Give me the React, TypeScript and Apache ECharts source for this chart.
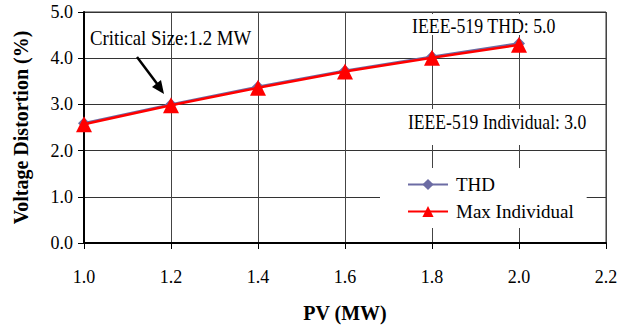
import React, { useEffect, useRef } from "react";
import * as echarts from "echarts";

const pvValues = [1.0, 1.2, 1.4, 1.6, 1.8, 2.0];
const thdValues = [2.59, 3.0, 3.38, 3.73, 4.03, 4.32];
const maxIndividualValues = [2.57, 2.98, 3.36, 3.71, 4.01, 4.29];
const seriesNames = ["THD", "Max Individual"];
const xAxisTitle = "PV (MW)";
const yAxisTitle = "Voltage Distortion (%)";
const annotationCritical = "Critical Size:1.2 MW";
const annotationThd = "IEEE-519 THD: 5.0";
const annotationIndividual = "IEEE-519 Individual: 3.0";

const FONT = "Liberation Serif";

export default function App() {
  const ref = useRef<HTMLDivElement>(null);
  useEffect(() => {
    if (!ref.current) return;
    const chart = echarts.init(ref.current, null, { renderer: "svg" });
    const thdData = pvValues.map((x, i) => [x, thdValues[i]]);
    const maxData = pvValues.map((x, i) => [x, maxIndividualValues[i]]);
    const annText = (text: string, x: number, y: number, sx: number) => ({
      type: "text",
      x,
      y,
      scaleX: sx,
      z: 10,
      style: {
        text,
        fontFamily: FONT,
        fontSize: 20,
        fill: "#000",
        verticalAlign: "middle",
        align: "left",
      },
    });
    chart.setOption({
      animation: false,
      backgroundColor: "#fff",
      textStyle: { fontFamily: FONT },
      grid: {
        left: 84,
        right: 28,
        top: 12,
        bottom: 78,
        show: true,
        borderColor: "#333",
        borderWidth: 1,
      },
      xAxis: {
        type: "value",
        min: 1.0,
        max: 2.2,
        interval: 0.2,
        name: xAxisTitle,
        nameLocation: "middle",
        nameGap: 60,
        nameTextStyle: { fontFamily: FONT, fontWeight: "bold", fontSize: 20, color: "#000" },
        axisLine: { show: true, onZero: false, lineStyle: { color: "#000", width: 2 } },
        axisTick: { show: true, length: 6, lineStyle: { color: "#000" } },
        axisLabel: {
          fontFamily: FONT,
          fontSize: 18,
          color: "#000",
          margin: 25,
          formatter: (v: number) => v.toFixed(1),
        },
        splitLine: { show: true, lineStyle: { color: "#444", width: 1 } },
      },
      yAxis: {
        type: "value",
        min: 0,
        max: 5,
        interval: 1,
        name: yAxisTitle,
        nameLocation: "middle",
        nameGap: 53,
        nameTextStyle: { fontFamily: FONT, fontWeight: "bold", fontSize: 20, color: "#000" },
        axisLine: { show: true, lineStyle: { color: "#000", width: 2 } },
        axisTick: { show: true, length: 6, lineStyle: { color: "#000" } },
        axisLabel: {
          fontFamily: FONT,
          fontSize: 18,
          color: "#000",
          margin: 11,
          formatter: (v: number) => v.toFixed(1),
        },
        splitLine: { show: true, lineStyle: { color: "#333", width: 1 } },
      },
      legend: {
        orient: "vertical",
        left: 380,
        top: 168,
        backgroundColor: "#fff",
        padding: [7, 13, 7, 27],
        itemGap: 8,
        itemWidth: 40,
        itemHeight: 14,
        textStyle: { fontFamily: FONT, fontSize: 19, color: "#000", padding: [0, 0, 0, 3] },
        data: seriesNames,
      },
      series: [
        {
          name: seriesNames[0],
          type: "line",
          data: thdData,
          symbol: "diamond",
          symbolSize: 12,
          lineStyle: { color: "#6c6ca4", width: 2.5 },
          itemStyle: { color: "#6c6ca4" },
          z: 2,
        },
        {
          name: seriesNames[1],
          type: "line",
          data: maxData,
          symbol: "triangle",
          symbolSize: 16,
          lineStyle: { color: "#ff0000", width: 2.5 },
          itemStyle: { color: "#ff0000" },
          z: 3,
        },
      ],
      graphic: [
        {
          type: "rect",
          z: 9,
          shape: { x: 409, y: 14, width: 148, height: 21 },
          style: { fill: "#fff" },
        },
        {
          type: "rect",
          z: 9,
          shape: { x: 402, y: 109, width: 190, height: 36 },
          style: { fill: "#fff" },
        },
        annText(annotationCritical, 90, 38, 0.94),
        annText(annotationThd, 412, 26, 0.89),
        annText(annotationIndividual, 408, 122, 0.88),
        {
          type: "line",
          z: 10,
          shape: { x1: 137, y1: 57, x2: 158, y2: 85 },
          style: { stroke: "#000", lineWidth: 2.5 },
        },
        {
          type: "polygon",
          z: 10,
          shape: { points: [[164, 94], [152, 87], [161, 80]] },
          style: { fill: "#000" },
        },
      ],
    });
    return () => chart.dispose();
  }, []);
  return <div ref={ref} style={{ width: 634, height: 328, position: "absolute", left: 0, top: 0 }} />;
}
